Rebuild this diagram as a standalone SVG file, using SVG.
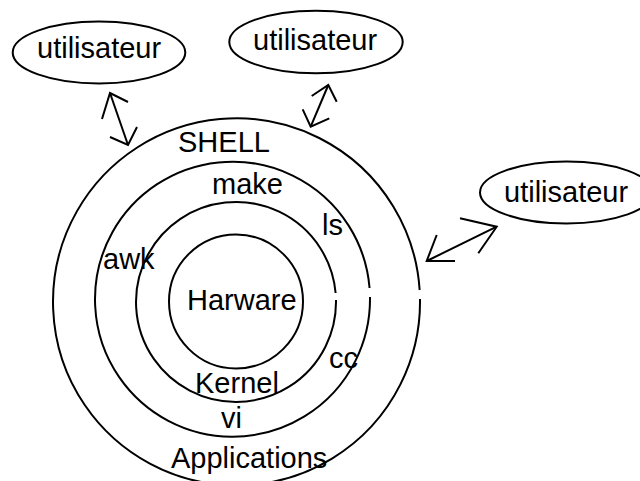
<svg xmlns="http://www.w3.org/2000/svg" width="640" height="481" viewBox="0 0 640 481">
  <style>
    .ln { fill: none; stroke: #000; stroke-width: 2; stroke-linecap: butt; stroke-linejoin: miter; }
    .t { font-family: "Liberation Sans", Arial, sans-serif; font-size: 29px; fill: #000; }
  </style>
  <rect width="640" height="481" fill="#fff"/>

  <!-- concentric layers of the system -->
  <g id="layer-shell">
    <path class="ln" d="M 420 299 A 183.5 183.5 0 1 1 419.64 290"/>
    <text class="t" x="178" y="152">SHELL</text>
    <text class="t" x="171" y="468">Applications</text>
  </g>
  <g id="layer-tools">
    <path class="ln" d="M 370 297 A 137.5 137.5 0 1 1 369.56 288"/>
    <text class="t" x="212" y="194">make</text>
    <text class="t" x="322" y="235">ls</text>
    <text class="t" x="103" y="269">awk</text>
    <text class="t" x="329" y="368">cc</text>
    <text class="t" x="221" y="428">vi</text>
  </g>
  <g id="layer-kernel">
    <path class="ln" d="M 336 300 A 100 100 0 1 1 335.62 293"/>
    <text class="t" x="195" y="393">Kernel</text>
  </g>
  <g id="layer-hardware">
    <circle class="ln" cx="236" cy="301.5" r="67"/>
    <text class="t" x="187" y="310">Harware</text>
  </g>

  <!-- users -->
  <g id="user-1">
    <ellipse class="ln" cx="99" cy="52.5" rx="86.3" ry="31"/>
    <text class="t" x="37" y="58">utilisateur</text>
  </g>
  <g id="user-2">
    <ellipse class="ln" cx="316" cy="42" rx="86.7" ry="31.3"/>
    <text class="t" x="253" y="50">utilisateur</text>
  </g>
  <g id="user-3">
    <ellipse class="ln" cx="566.5" cy="192.5" rx="86.5" ry="31"/>
    <text class="t" x="504" y="202">utilisateur</text>
  </g>

  <!-- two-way links between users and the shell -->
  <g id="connectors">
    <g id="link-1">
      <line class="ln" x1="110" y1="93" x2="128" y2="145"/>
      <polyline class="ln" points="102,119 110,93 128,102"/>
      <polyline class="ln" points="110,137 128,145 137,127"/>
    </g>
    <g id="link-2">
      <line class="ln" x1="328.3" y1="85" x2="310.7" y2="126.7"/>
      <polyline class="ln" points="311.7,96 328.3,85 336.7,101.7"/>
      <polyline class="ln" points="302.7,109.3 310.7,126.7 329.3,118.3"/>
    </g>
    <g id="link-3">
      <line class="ln" x1="496.7" y1="226.7" x2="426.7" y2="261"/>
      <polyline class="ln" points="460,218.3 496.7,226.7 478.3,253.3"/>
      <polyline class="ln" points="436.7,235 426.7,261 455,261"/>
    </g>
  </g>
</svg>
